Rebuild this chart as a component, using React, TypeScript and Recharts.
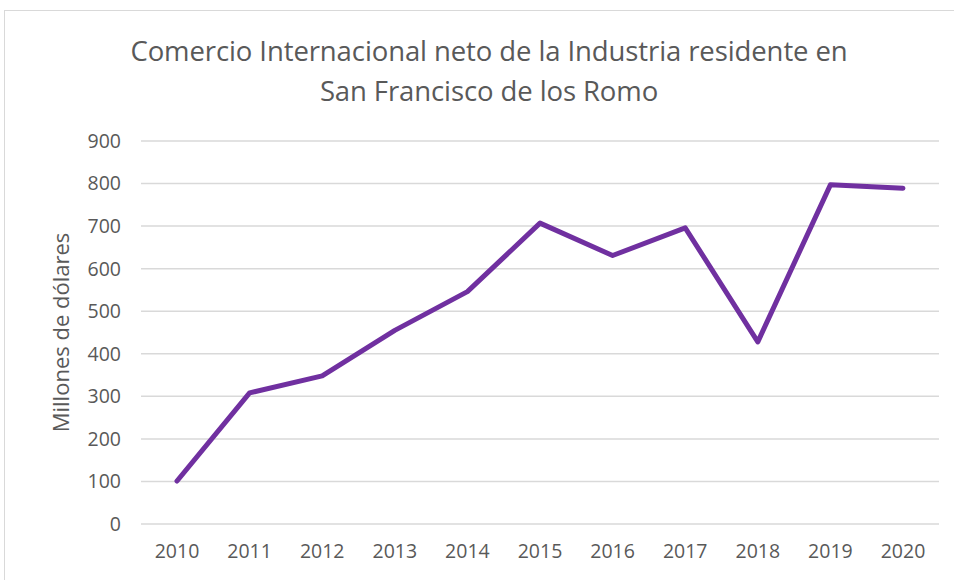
import React from 'react'
import { LineChart, Line, XAxis, YAxis, CartesianGrid, Label } from 'recharts'

const years = ['2010', '2011', '2012', '2013', '2014', '2015', '2016', '2017', '2018', '2019', '2020']
const comercioNeto = [101, 308, 348, 455, 546, 707, 631, 696, 428, 797, 789]
const yTicks = [0, 100, 200, 300, 400, 500, 600, 700, 800, 900]

const titleLines = [
  'Comercio Internacional neto de la Industria residente en',
  'San Francisco de los Romo',
]

const FONT = '"Open Sans", "Noto Sans", sans-serif'
const GRAY = '#595959'

const data = years.map((year, i) => ({ year, value: comercioNeto[i] }))

const App: React.FC = () => {
  return (
    <div style={{ position: 'absolute', left: 0, top: 0, width: 954, height: 580, overflow: 'hidden', background: '#fff' }}>
      <div
        style={{
          position: 'absolute',
          left: 4,
          top: 10,
          width: 1000,
          height: 700,
          border: '1px solid #d9d9d9',
        }}
      />
      {titleLines.map((line, i) => (
        <div
          key={line}
          style={{
            position: 'absolute',
            left: 0,
            width: 978,
            top: 32 + i * 40,
            textAlign: 'center',
            fontFamily: FONT,
            fontSize: 27.5,
            lineHeight: '38px',
            color: GRAY,
            whiteSpace: 'nowrap',
            letterSpacing: '-0.1px',
          }}
        >
          {line}
        </div>
      ))}
      <div style={{ position: 'absolute', left: 0, top: 0 }}>
        <LineChart width={954} height={580} data={data} margin={{ top: 141, right: 15, bottom: 26, left: 81 }}>
          <CartesianGrid vertical={false} stroke="#d9d9d9" strokeWidth={1.5} />
          <XAxis
            dataKey="year"
            axisLine={false}
            tickLine={false}
            tickSize={0}
            tickMargin={20}
            height={30}
            padding={{ left: 36, right: 36 }}
            tick={{ fill: GRAY, fontSize: 19.5, fontFamily: FONT }}
          />
          <YAxis
            domain={[0, 900]}
            ticks={yTicks}
            axisLine={false}
            tickLine={false}
            tickSize={0}
            tickMargin={20}
            width={60}
            tick={{ fill: GRAY, fontSize: 19.5, fontFamily: FONT }}
          >
            <Label
              value="Millones de dólares"
              angle={-90}
              position="insideLeft"
              offset={-20}
              style={{ fill: GRAY, fontSize: 22, fontFamily: FONT, textAnchor: 'middle' }}
            />
          </YAxis>
          <Line
            type="linear"
            dataKey="value"
            stroke="#7030a0"
            strokeWidth={5}
            strokeLinecap="round"
            strokeLinejoin="round"
            dot={false}
            activeDot={false}
            isAnimationActive={false}
          />
        </LineChart>
      </div>
    </div>
  )
}

export default App
